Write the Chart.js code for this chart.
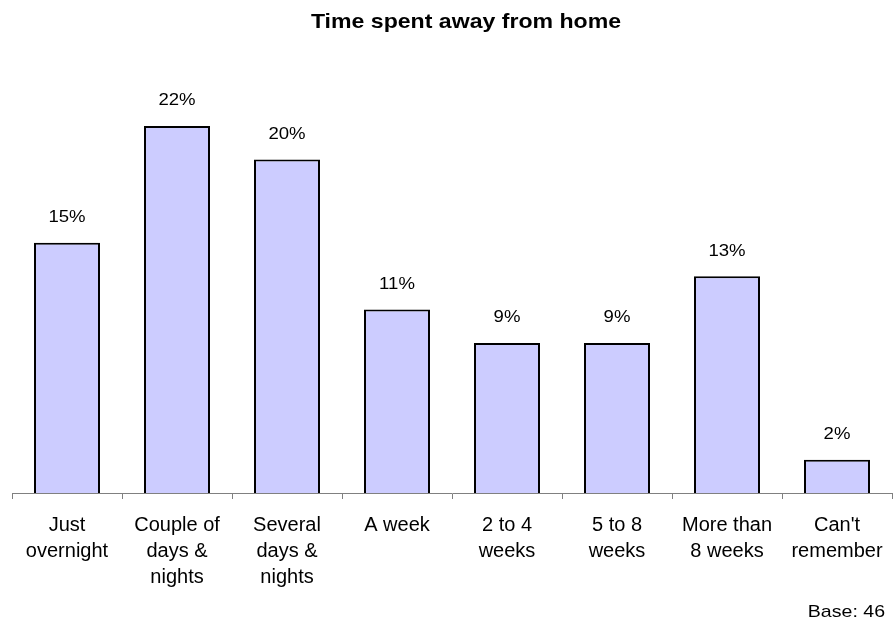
<!DOCTYPE html>
<html>
<head>
<meta charset="utf-8">
<script src="https://cdn.jsdelivr.net/npm/chart.js@4"></script>
<style>
  html, body { margin: 0; padding: 0; background: #fff; overflow: hidden; }
</style>
</head>
<body>
<canvas id="awayChart" width="893" height="623"></canvas>
<script>
// 類別與數值
const categories = [
    ['Just', 'overnight'],
    ['Couple of', 'days &', 'nights'],
    ['Several', 'days &', 'nights'],
    ['A week'],
    ['2 to 4', 'weeks'],
    ['5 to 8', 'weeks'],
    ['More than', '8 weeks'],
    ["Can't", 'remember']
];
const percentValues = [15, 22, 20, 11, 9, 9, 13, 2];
const chartTitle = 'Time spent away from home';
const baseNote = 'Base: 46';

const FONT = '"Liberation Sans", Arial, sans-serif';

// 寫一段水平拉寬的文字 (原圖字型比較寬)
function wideText(ctx, text, x, y, stretch) {
    ctx.save();
    ctx.translate(x, y);
    ctx.scale(stretch, 1);
    ctx.fillText(text, 0, 0);
    ctx.restore();
}

// 自己畫標題、數值標籤與 Base 註記
const labelPlugin = {
    id: 'labelPlugin',
    afterDatasetsDraw(chart) {
        const ctx = chart.ctx;
        const meta = chart.getDatasetMeta(0);
        ctx.save();
        ctx.fillStyle = '#000';
        ctx.textBaseline = 'middle';

        ctx.font = '16px ' + FONT;
        ctx.textAlign = 'center';
        meta.data.forEach((bar, i) => {
            wideText(ctx, percentValues[i] + '%', bar.x, bar.y - 25, 1.16);
        });

        ctx.font = 'bold 21px ' + FONT;
        wideText(ctx, chartTitle, 466, 22, 1.1);

        ctx.font = '17px ' + FONT;
        ctx.textAlign = 'right';
        wideText(ctx, baseNote, 885, 612, 1.15);
        ctx.restore();
    }
};

new Chart(document.getElementById('awayChart'), {
    type: 'bar',
    data: {
        labels: categories,
        datasets: [{
            data: percentValues,
            backgroundColor: '#ccccff',
            borderColor: '#000',
            borderWidth: 2,
            categoryPercentage: 1,
            barPercentage: 0.6
        }]
    },
    options: {
        responsive: false,
        animation: false,
        events: [],
        layout: {
            padding: { left: 12, right: 1, top: 76, bottom: 20 }
        },
        plugins: {
            legend: { display: false },
            title: { display: false },
            tooltip: { enabled: false }
        },
        scales: {
            x: {
                offset: true,
                afterFit(scale) {
                    scale.paddingLeft = 0;
                    scale.paddingRight = 0;
                },
                border: { display: true, color: '#808080', width: 1 },
                grid: {
                    offset: true,
                    drawOnChartArea: false,
                    drawTicks: true,
                    tickLength: 6,
                    color: '#808080'
                },
                ticks: {
                    color: '#000',
                    maxRotation: 0,
                    autoSkip: false,
                    padding: 13,
                    font: { family: FONT, size: 20, lineHeight: 1.3 }
                }
            },
            y: {
                display: false,
                min: 0,
                max: 25
            }
        }
    },
    plugins: [labelPlugin]
});
</script>
</body>
</html>
